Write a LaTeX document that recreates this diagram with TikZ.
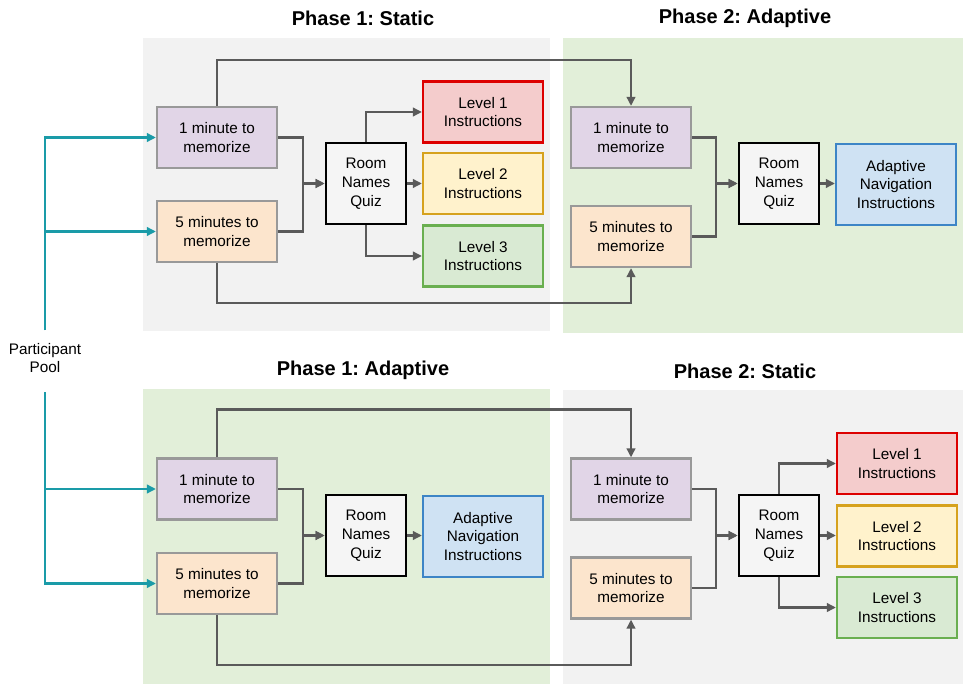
\documentclass[tikz,border=0pt]{standalone}
\usepackage{fontspec}
\setmainfont{Liberation Sans}
\usetikzlibrary{arrows.meta}
\frenchspacing
\definecolor{panelgray}{HTML}{F2F2F2}
\definecolor{panelgreen}{HTML}{E2EFD9}
\definecolor{purplef}{HTML}{E1D5E7}
\definecolor{peachf}{HTML}{FCE5CD}
\definecolor{quizf}{HTML}{F5F5F5}
\definecolor{redf}{HTML}{F4CCCC}
\definecolor{redd}{HTML}{DD0000}
\definecolor{yelf}{HTML}{FFF2CC}
\definecolor{yeld}{HTML}{D6A21E}
\definecolor{grnf}{HTML}{D9EAD3}
\definecolor{grnd}{HTML}{6AAF50}
\definecolor{bluef}{HTML}{CFE2F3}
\definecolor{blued}{HTML}{3D85C6}
\definecolor{boxgray}{HTML}{999999}
\definecolor{conn}{HTML}{5A5A5A}
\definecolor{tealc}{HTML}{1A9BA8}
\tikzset{
  txt/.style={font=\fontsize{15.3}{18.7}\selectfont, align=center, inner sep=0pt},
  basebox/.style={txt, minimum width=120pt, minimum height=61pt, line width=2.2pt},
  memA/.style={basebox, draw=boxgray, fill=purplef},
  memB/.style={basebox, draw=boxgray, fill=peachf},
  quiz/.style={txt, draw=black, fill=quizf, line width=2.8pt, minimum width=80pt, minimum height=81pt},
  lvlA/.style={basebox, draw=redd, fill=redf},
  lvlB/.style={basebox, draw=yeld, fill=yelf},
  lvlC/.style={basebox, draw=grnd, fill=grnf},
  adapt/.style={basebox, draw=blued, fill=bluef, minimum height=81pt},
  title/.style={font=\fontsize{20}{24}\selectfont\bfseries, inner sep=0pt},
  link/.style={draw=conn, line width=2.2pt, -{Triangle[length=9pt,width=8.5pt]}},
  tlink/.style={draw=tealc, line width=2.2pt, -{Triangle[length=9pt,width=8.5pt]}},
}
\begin{document}
\begin{tikzpicture}[x=1pt,y=-1pt]
\useasboundingbox[fill=white] (0,0) rectangle (963,684);
% panels
\fill[panelgray] (143,38) rectangle (550,331);
\fill[panelgreen] (563,38) rectangle (963,333);
\fill[panelgreen] (143,389) rectangle (550,684);
\fill[panelgray] (563,390) rectangle (963,684);
% titles
\node[title] (t1) at (363,18) {Phase 1: Static};
\node[title] (t2) at (745,18) {Phase 2: Adaptive};
\node[title] (t3) at (363,370) {Phase 1: Adaptive};
\node[title] (t4) at (745,371) {Phase 2: Static};
% participant pool
\node[txt] (pool) at (45,358) {Participant\\Pool};
\coordinate (ttop) at (45,330);
\coordinate (tbot) at (45,392);
% top-left
\node[memA] (A1) at (217,137.5) {1 minute to\\memorize};
\node[memB] (B1) at (217,231.5) {5 minutes to\\memorize};
\node[quiz] (Q1) at (366,183.5) {Room\\Names\\Quiz};
\node[lvlA] (L11) at (483,112) {Level 1\\Instructions};
\node[lvlB] (L12) at (483,183.5) {Level 2\\Instructions};
\node[lvlC] (L13) at (483,256) {Level 3\\Instructions};
% top-right
\node[memA] (A2) at (631,137.5) {1 minute to\\memorize};
\node[memB] (B2) at (631,236.5) {5 minutes to\\memorize};
\node[quiz] (Q2) at (779,183.5) {Room\\Names\\Quiz};
\node[adapt] (D2) at (896,184.5) {Adaptive\\Navigation\\Instructions};
% bottom-left
\node[memA] (A3) at (217,489) {1 minute to\\memorize};
\node[memB] (B3) at (217,583.5) {5 minutes to\\memorize};
\node[quiz] (Q3) at (366,535.5) {Room\\Names\\Quiz};
\node[adapt] (D3) at (483,536.5) {Adaptive\\Navigation\\Instructions};
% bottom-right
\node[memA] (A4) at (631,489) {1 minute to\\memorize};
\node[memB] (B4) at (631,588) {5 minutes to\\memorize};
\node[quiz] (Q4) at (779,535.5) {Room\\Names\\Quiz};
\node[lvlA] (L41) at (897,463.5) {Level 1\\Instructions};
\node[lvlB] (L42) at (897,536) {Level 2\\Instructions};
\node[lvlC] (L43) at (897,607.5) {Level 3\\Instructions};
% teal connectors
\draw[tlink] (ttop) |- (A1.west);
\draw[tlink] (ttop) |- (B1.west);
\draw[tlink] (tbot) |- (A3.west);
\draw[tlink] (tbot) |- (B3.west);
% top-left connectors
\draw[link] (A1.east) -- ++(25,0) |- (Q1.west);
\draw[link] (B1.east) -- ++(25,0) |- (Q1.west);
\draw[link] (Q1.north) |- (L11.west);
\draw[link] (Q1.east) -- (L12.west);
\draw[link] (Q1.south) |- (L13.west);
\draw[link] (A1.north) -- ++(0,-46) -| (A2.north);
\draw[link] (B1.south) -- ++(0,40) -| (B2.south);
% top-right connectors
\draw[link] (A2.east) -- ++(24,0) |- (Q2.west);
\draw[link] (B2.east) -- ++(24,0) |- (Q2.west);
\draw[link] (Q2.east) -- (Q2.east -| D2.west);
% bottom-left connectors
\draw[link] (A3.east) -- ++(25,0) |- (Q3.west);
\draw[link] (B3.east) -- ++(25,0) |- (Q3.west);
\draw[link] (Q3.east) -- (Q3.east -| D3.west);
\draw[link] (A3.north) -- ++(0,-48) -| (A4.north);
\draw[link] (B3.south) -- ++(0,50) -| (B4.south);
% bottom-right connectors
\draw[link] (A4.east) -- ++(24,0) |- (Q4.west);
\draw[link] (B4.east) -- ++(24,0) |- (Q4.west);
\draw[link] (Q4.north) |- (L41.west);
\draw[link] (Q4.east) -- (Q4.east -| L42.west);
\draw[link] (Q4.south) |- (L43.west);
\end{tikzpicture}
\end{document}
